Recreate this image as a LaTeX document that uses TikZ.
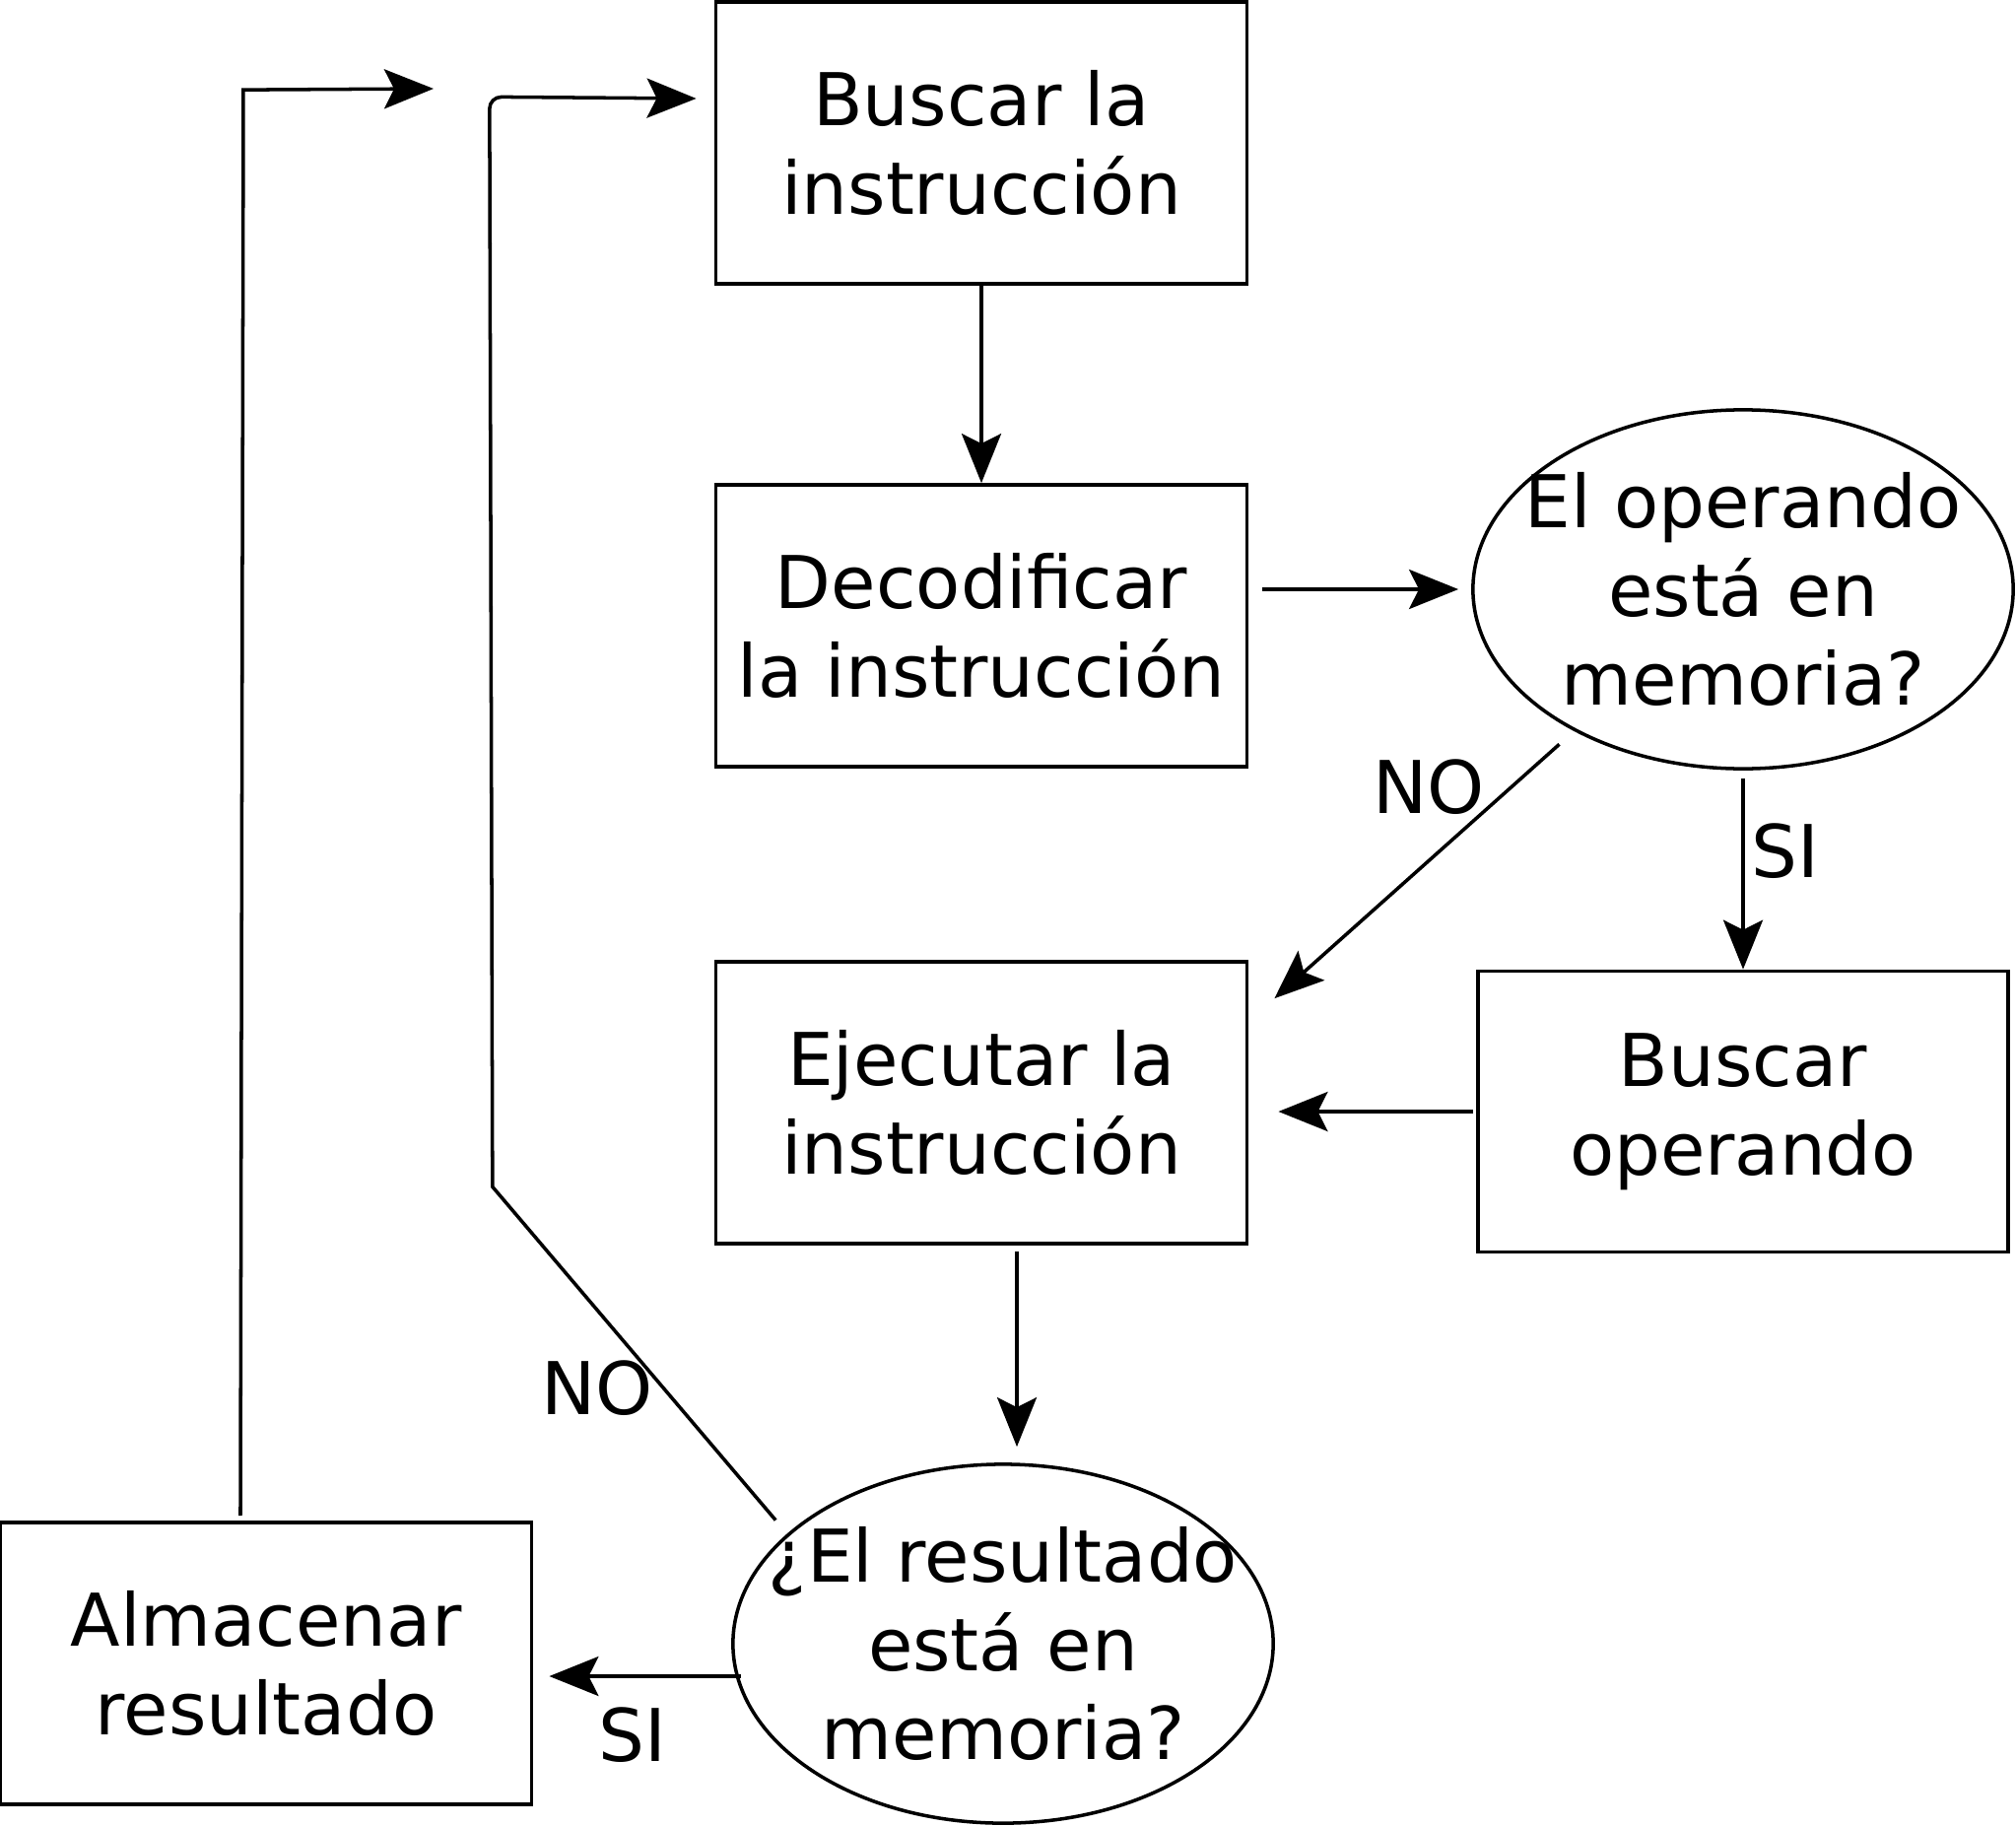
\documentclass[tikz,border=0pt]{standalone}
\usepackage{fontspec}
\setmainfont{DejaVu Sans}
\usetikzlibrary{arrows.meta,shapes.geometric,calc}
\tikzset{
  procbox/.style={draw, rectangle, minimum width=5.39cm, minimum height=2.86cm, align=center, inner sep=0pt},
  decision/.style={draw, ellipse, minimum width=5.48cm, minimum height=3.64cm, inner sep=0pt},
  lbl/.style={align=center, inner sep=0pt},
  flow/.style={-{Stealth[length=0.5cm,width=0.4cm,inset=0.1cm]}},
}
\begin{document}
\begin{tikzpicture}[x=0.01cm, y=-0.01cm, line width=1pt, font=\fontsize{21}{25.5}\selectfont]
      \useasboundingbox (0,0) rectangle (2046,1852);
      \node[procbox] (fetch) at (996,145) {Buscar la\\instrucción}; % fetch box
      \node[procbox] (decode) at (996,635) {Decodificar\\la instrucción}; % decode box
      \node[procbox] (exec) at (996,1119) {Ejecutar la\\instrucción}; % execute box
      \node[procbox, minimum width=5.38cm, minimum height=2.85cm] (fetchop) at (1769,1128) {Buscar\\operando}; % operand box
      \node[procbox] (store) at (270,1688) {Almacenar\\resultado}; % store box
      \node[decision] (opq) at (1769,598) {}; % operand question
      \node[lbl] (opqtxt) at (opq) {El operando\\está en\\memoria?};
      \node[decision] (resq) at (1018,1668) {}; % result question
      \node[lbl] (resqtxt) at (resq) {¿El resultado\\está en\\memoria?};
      \coordinate (nopt) at ([shift={(26,39)}]exec.north east); % NO arrow tip
      \coordinate (fetchin) at ([shift={(-18,-45)}]fetch.west); % loop arrow tip
      \coordinate (loopend) at (440,90); % left loop tip
      \draw[flow] (fetch.south) -- (decode.north); % Wiring
      \draw[flow,shorten <=0.14cm,shorten >=0.13cm] (decode.east |- opq.west) -- (opq.west); % Wiring
      \draw[flow,shorten <=0.2cm] (opq.220) -- (nopt); % NO branch
      \node[lbl] (no1) at (1450,799) {NO}; % NO label
      \draw[flow,shorten <=0.08cm] (opq.south) -- (fetchop.north); % SI branch
      \node[lbl] (si1) at (1812,864) {SI}; % SI label
      \draw[flow,shorten <=0.03cm,shorten >=0.3cm] (fetchop.west) -- (fetchop.west -| exec.east); % Wiring
      \draw[flow,shorten <=0.06cm,shorten >=0.16cm] ([xshift=0.36cm]exec.south) -- ([xshift=0.36cm]exec.south |- resq.north); % Wiring
      \draw[flow] ([shift={(10,33)}]resq.west) -- ([shift={(16,13)}]store.east); % SI branch
      \node[lbl] (si2) at (642,1761) {SI}; % SI label
      \draw[flow,shorten <=0.18cm] (resq.153) -- ++(-299,-352) [rounded corners=0.12cm] -- ++(-3,-1106) -- (fetchin); % NO loop
      \node[lbl] (no2) at (606,1409) {NO}; % NO label
      \draw[flow] ([xshift=-0.26cm,yshift=0.05cm]store.north) -- ++(3,-1447) -- (loopend); % left loop
    \end{tikzpicture}
\end{document}
